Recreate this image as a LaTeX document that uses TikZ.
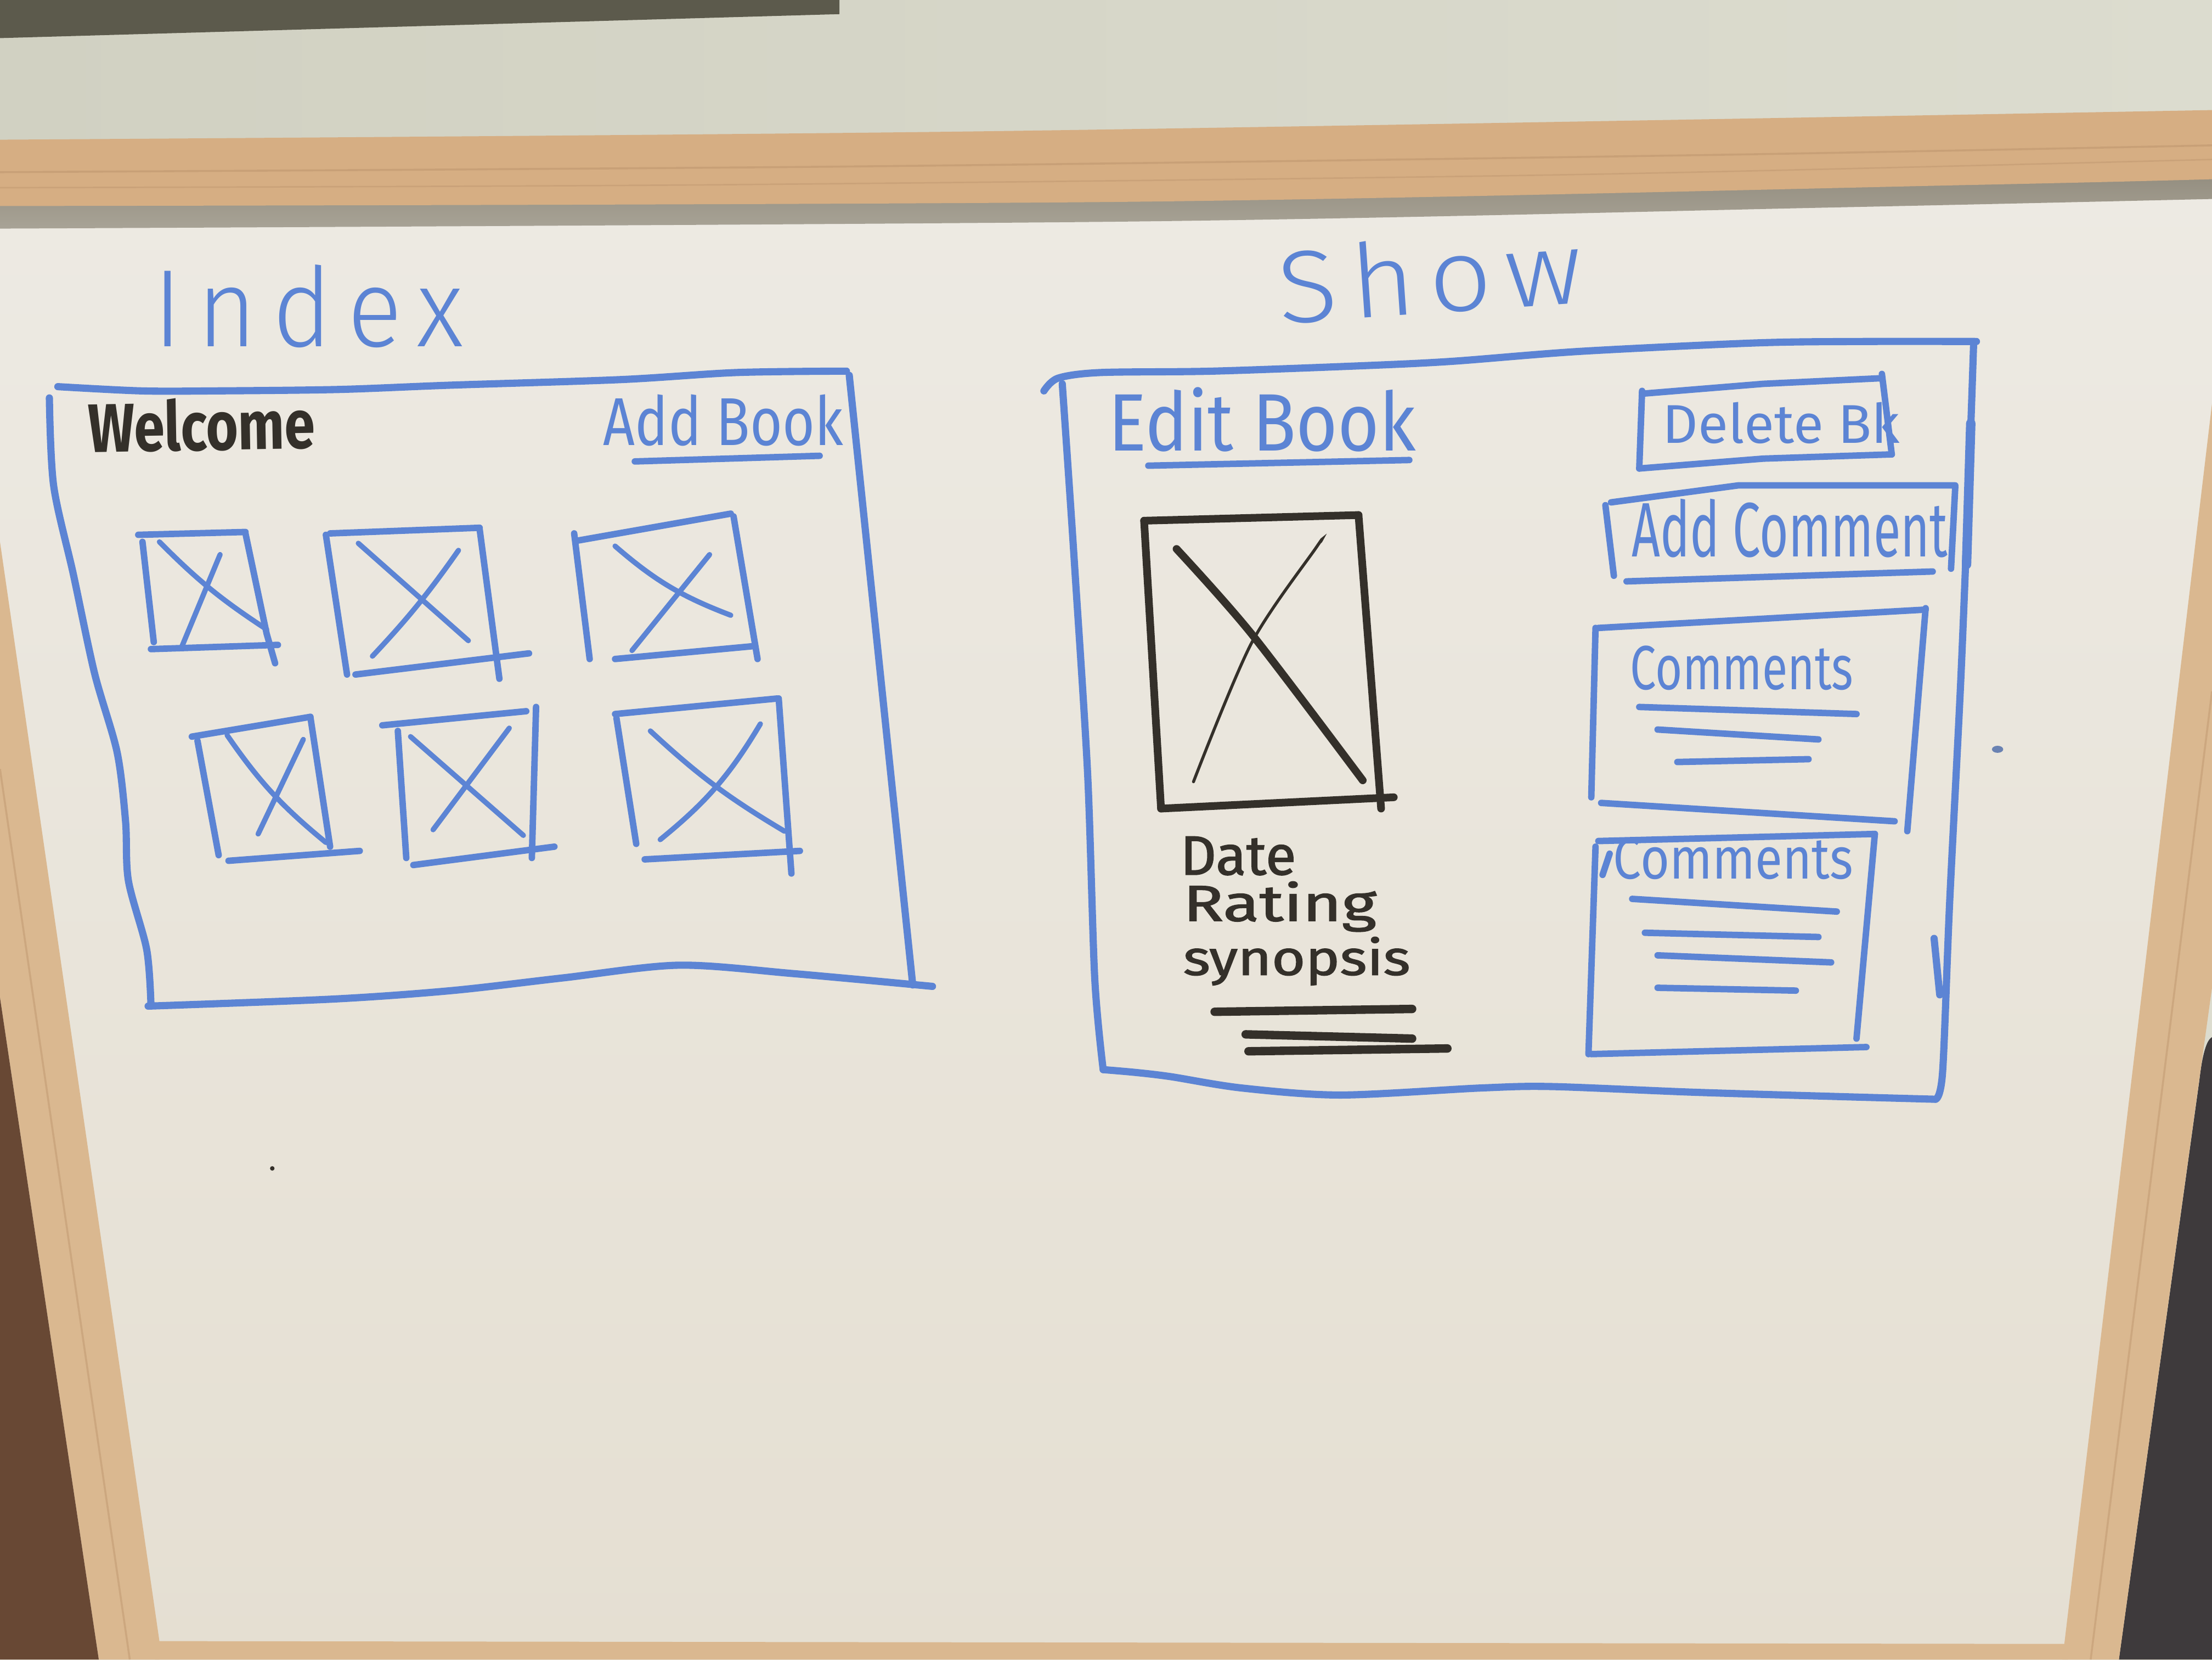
\documentclass[tikz,border=0pt]{standalone}
\usepackage{fontspec}
\usepackage{graphicx}
\newfontfamily\penthin{Fira Sans Light}
\newfontfamily\pen{Fira Sans}

% room and board colours
\definecolor{wallL}{RGB}{209,209,194}
\definecolor{wallR}{RGB}{220,220,207}
\definecolor{patch}{RGB}{92,90,76}
\definecolor{wood}{RGB}{214,174,131}
\definecolor{woodside}{RGB}{218,184,144}
\definecolor{woodgrain}{RGB}{192,152,112}
\definecolor{shadowD}{RGB}{148,142,128}
\definecolor{shadowL}{RGB}{168,163,150}
\definecolor{boardT}{RGB}{237,234,227}
\definecolor{boardB}{RGB}{229,223,210}
\definecolor{brownbg}{RGB}{104,72,52}
\definecolor{darkbg}{RGB}{62,58,60}
% marker inks
\definecolor{mblue}{RGB}{92,132,212}
\definecolor{mblack}{RGB}{52,48,42}

\begin{document}
\begin{tikzpicture}[x=0.1mm,y=-0.1mm,
  frame/.style={draw=mblue, line width=1.45pt, line cap=round, line join=round},
  box/.style={draw=mblue, line width=1.3pt, line cap=round, line join=round},
  cross/.style={draw=mblue, line width=1.05pt, line cap=round},
  ink/.style={draw=mblack, line width=1.55pt, line cap=round, line join=round},
  inkthin/.style={draw=mblack, line width=0.6pt, line cap=round},
  handtext/.style={inner sep=0pt, anchor=south west}]
\useasboundingbox (0,0) rectangle (1568,1176);

% ---------- wall, board and frame ----------
\shade[left color=wallL, right color=wallR] (0,0) rectangle (1568,170);
\fill[patch] (0,0) -- (595,0) -- (595,10) -- (0,27) -- cycle;
\shade[top color=boardT, bottom color=boardB] (0,130) rectangle (1568,1176);
\shade[top color=shadowD, bottom color=shadowL]
  plot[smooth] coordinates {(0,144) (800,141) (1400,129) (1568,124)}
  -- plot[smooth] coordinates {(1568,141) (1300,147) (800,157) (0,162)} -- cycle;
\fill[wood]
  plot[smooth] coordinates {(0,99) (700,93) (1568,78)}
  -- plot[smooth] coordinates {(1568,127) (1400,131) (800,143) (0,146)} -- cycle;
\draw[woodgrain, line width=0.4pt, opacity=0.6]
  plot[smooth] coordinates {(0,122) (600,118) (1200,110) (1568,103)};
\draw[woodgrain, line width=0.3pt, opacity=0.5]
  plot[smooth] coordinates {(0,133) (500,131) (1100,124) (1568,113)};
% left rail
\fill[woodside] (0,384) -- (113,1163) -- (113,1176) -- (70,1176) -- (0,707) -- cycle;
\fill[brownbg] (0,707) -- (70,1176) -- (0,1176) -- cycle;
\draw[woodgrain, line width=0.4pt, opacity=0.5] (0,545) -- (92,1176);
% right rail
\fill[wallR] (1568,700) -- (1502,1176) -- (1568,1176) -- cycle;
\fill[darkbg] (1559,766) .. controls (1561,748) and (1564,737) .. (1568,735)
  -- (1568,1176) -- (1502,1176) -- cycle;
\fill[woodside] (1568,286) -- (1462,1176) -- (1502,1176) -- (1568,700) -- cycle;
\draw[woodgrain, line width=0.4pt, opacity=0.5] (1568,490) -- (1482,1176);
% bottom rail
\fill[woodside] (110,1163) -- (1466,1165) -- (1466,1176) -- (110,1176) -- cycle;

% ---------- titles ----------
\node[handtext, text=mblue] (index) at (108,247)
  {\resizebox{22mm}{5.8mm}{\penthin\addfontfeature{LetterSpace=15}Index}};
\node[handtext, text=mblue, rotate=4] (show) at (907,231)
  {\resizebox{21.6mm}{5.4mm}{\penthin\addfontfeature{LetterSpace=12}Show}};

% ---------- index page ----------
\draw[frame] plot[smooth] coordinates {(41,274) (100,277) (154,277) (240,276) (318,273) (440,269) (522,264) (600,263)};
\draw[frame] plot[smooth] coordinates {(35,282) (38,344) (52,407) (67,477) (83,533) (89,582) (91,624) (104,673) (107,712)};
\draw[frame] plot[smooth] coordinates {(105,713) (236,708) (320,702) (399,693) (481,684) (563,690) (661,699)};
\draw[frame] (602,266) -- (647,698);

\node[handtext, text=mblack, rotate=1] (welcome) at (62,322)
  {\resizebox{16.1mm}{3.7mm}{\pen\bfseries Welcome}};
\node[handtext, text=mblue] (addbook) at (427,317)
  {\resizebox{17mm}{3.6mm}{\pen Add Book}};
\draw[box] (450,327) -- (581,323);

% image placeholders, first row
\draw[box] (98,379) -- (174,377);
\draw[box] (101,384) -- (109,455);
\draw[box] (174,378) -- (189,449) -- (195,470);
\draw[box] (107,460) -- (197,457);
\draw[cross] (113,384) to[bend right=6] (189,446);
\draw[cross] (156,393) -- (129,458);

\draw[box] (234,378) -- (340,374);
\draw[box] (231,379) -- (246,478);
\draw[box] (340,375) -- (354,481);
\draw[box] (252,478) -- (375,463);
\draw[cross] (254,385) -- (332,454);
\draw[cross] (325,390) to[bend left=4] (264,465);

\draw[box] (410,383) -- (518,364);
\draw[box] (407,378) -- (418,467);
\draw[box] (520,366) -- (537,467);
\draw[box] (436,467) -- (533,458);
\draw[cross] (436,387) to[bend right=10] (518,436);
\draw[cross] (503,393) -- (448,461);

% image placeholders, second row
\draw[box] (136,522) -- (220,508);
\draw[box] (140,525) -- (155,606);
\draw[box] (220,508) -- (234,600);
\draw[box] (162,610) -- (255,603);
\draw[cross] (161,521) to[bend right=8] (231,597);
\draw[cross] (215,524) -- (183,591);

\draw[box] (271,514) -- (373,504);
\draw[box] (282,518) -- (288,608);
\draw[box] (380,501) -- (377,608);
\draw[box] (293,613) -- (393,600);
\draw[cross] (291,522) -- (371,592);
\draw[cross] (361,516) -- (307,588);

\draw[box] (436,506) -- (551,495);
\draw[box] (437,509) -- (451,598);
\draw[box] (552,495) -- (561,619);
\draw[box] (457,609) -- (567,603);
\draw[cross] (461,518) to[bend right=6] (556,589);
\draw[cross] (539,513) to[bend left=10] (468,595);

% ---------- show page ----------
\draw[frame] plot[smooth] coordinates {(740,277) (750,268) (780,264) (860,263) (970,259) (1030,256) (1120,249) (1245,243) (1320,242) (1401,242)};
\draw[frame] plot[smooth] coordinates {(753,272) (757,330) (762,405) (771,549) (776,693) (782,758)};
\draw[frame] plot[smooth] coordinates {(782,758) (805,760) (830,763) (880,771) (950,776) (1050,771) (1100,770) (1200,774) (1300,777) (1372,779)};
\draw[frame] plot[smooth] coordinates {(1399,244) (1396,330) (1390,480) (1382,640) (1377,760) (1372,779)};
\draw[frame, line width=1.9pt] (1397,300) -- (1394,400);
\draw[frame] (1371,665) -- (1375,705);

\node[handtext, text=mblue] (editbook) at (785,321)
  {\resizebox{21.8mm}{4.5mm}{\pen Edit Book}};
\draw[box] (814,330) -- (999,326);

% buttons
\draw[box] (1164,279) -- (1250,272) -- (1334,268);
\draw[box] (1164,277) -- (1162,332);
\draw[box] (1334,265) -- (1341,322);
\draw[box] (1162,332) -- (1250,325) -- (1341,322);
\node[handtext, text=mblue] (deletebk) at (1178,315)
  {\resizebox{16.8mm}{2.9mm}{\pen Delete Bk}};

\draw[box] (1142,356) -- (1232,344) -- (1386,344);
\draw[box] (1138,358) -- (1144,408);
\draw[box] (1386,345) -- (1383,403);
\draw[box] (1153,412) -- (1370,405);
\node[handtext, text=mblue] (addcomment) at (1156,396)
  {\resizebox{22.4mm}{4.1mm}{\pen Add Comment}};

% comment cards
\draw[box] (1133,445) -- (1365,432);
\draw[box] (1131,445) -- (1128,565);
\draw[box] (1365,431) -- (1352,589);
\draw[box] (1135,569) -- (1343,582);
\node[handtext, text=mblue] (comments1) at (1155,490)
  {\resizebox{15.8mm}{3.1mm}{\pen Comments}};
\draw[box] (1162,501) -- (1316,506);
\draw[box] (1175,517) -- (1289,524);
\draw[box] (1189,540) -- (1282,538);

\draw[box] (1133,596) -- (1329,591);
\draw[box] (1131,600) -- (1126,747);
\draw[box] (1329,591) -- (1316,736);
\draw[box] (1128,747) -- (1323,742);
\draw[box] (1141,605) -- (1136,620);
\node[handtext, text=mblue] (comments2) at (1143,624)
  {\resizebox{17.0mm}{2.9mm}{\pen Comments}};
\draw[box] (1157,637) -- (1302,646);
\draw[box] (1166,661) -- (1289,664);
\draw[box] (1175,677) -- (1298,682);
\draw[box] (1175,700) -- (1273,702);

% cover image
\draw[ink] (811,369) -- (963,365);
\draw[ink] (811,369) -- (823,573);
\draw[ink] (963,365) -- (979,573);
\draw[ink] (823,573) -- (988,565);
\draw[ink] plot[smooth] coordinates {(834,389) (887,449) (966,553)};
\draw[inkthin] plot[smooth] coordinates {(936,384) (933,388) (887,456) (846,554)};

% book details
\node[handtext, text=mblack] (date) at (836,621)
  {\resizebox{8.2mm}{2.7mm}{\pen\addfontfeature{FakeBold=1.5}Date}};
\node[handtext, text=mblack] (rating) at (838,661)
  {\resizebox{13.7mm}{2.8mm}{\pen\addfontfeature{FakeBold=1.5}Rating}};
\node[handtext, text=mblack] (synopsis) at (838,699)
  {\resizebox{16.1mm}{2.7mm}{\pen\addfontfeature{FakeBold=1.5}synopsis}};
\draw[ink, line width=1.7pt] (861,717) -- (1001,715);
\draw[ink, line width=1.7pt] (883,733) -- (1001,736);
\draw[ink, line width=1.7pt] (885,745) -- (1026,743);

% stray marks on the board
\fill[mblack] (193,828) circle (1.6);
\fill[mblue!60!gray] (1416,531) ellipse (4 and 2.5);
\end{tikzpicture}
\end{document}
